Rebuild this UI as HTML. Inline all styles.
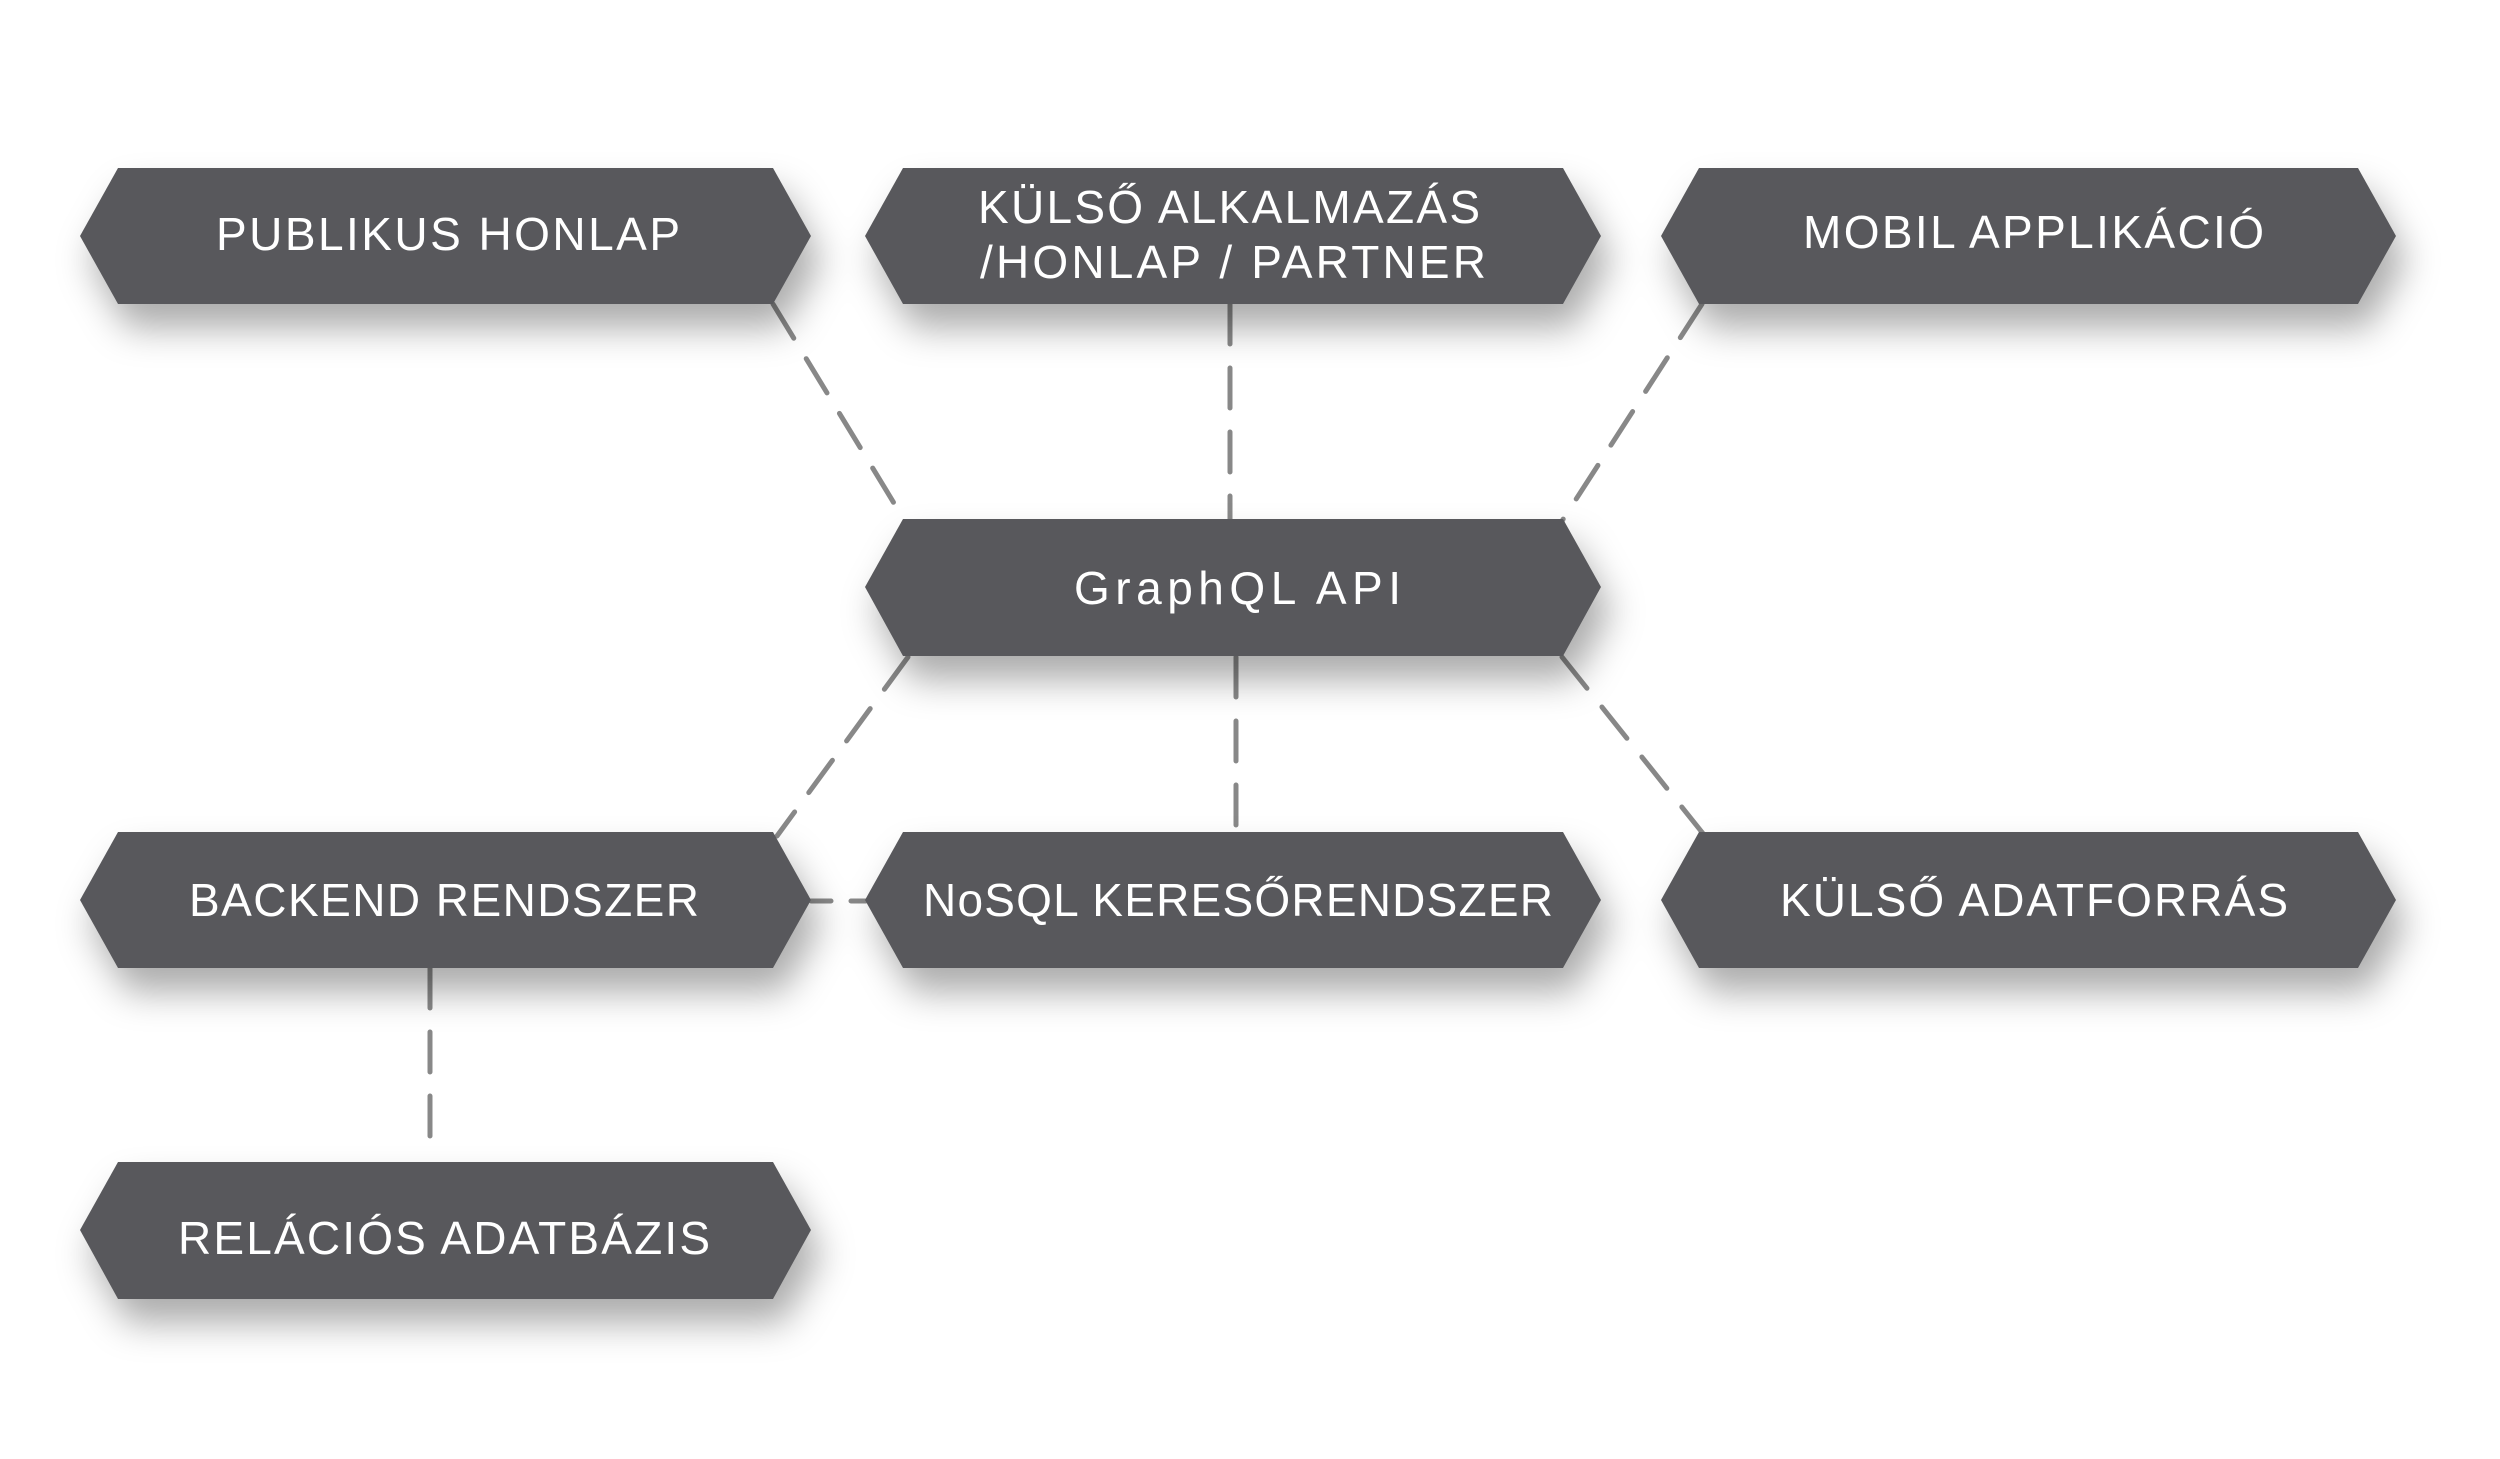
<!DOCTYPE html>
<html><head><meta charset="utf-8"><style>
html,body{margin:0;padding:0;background:#fff;}
svg{display:block;}
text{font-family:"Liberation Sans",sans-serif;font-size:46px;fill:#fff;}
</style></head><body>
<svg width="2500" height="1459" viewBox="0 0 2500 1459" xmlns="http://www.w3.org/2000/svg">
<defs>
<filter id="sh" x="-10%" y="-30%" width="130%" height="200%">
<feDropShadow dx="10" dy="24" stdDeviation="18" flood-color="#000" flood-opacity="0.33"/>
</filter>
</defs>
<g stroke="#888" stroke-width="5" stroke-dasharray="40 24" stroke-linecap="round" fill="none">
<line x1="773" y1="304" x2="903" y2="518"/>
<line x1="1230" y1="304" x2="1230" y2="520"/>
<line x1="1702" y1="304" x2="1562" y2="521"/>
<line x1="908" y1="657" x2="777" y2="836"/>
<line x1="1236" y1="657" x2="1236" y2="836"/>
<line x1="1562" y1="657" x2="1705" y2="836"/>
<line x1="811" y1="901" x2="866" y2="901" stroke-dasharray="20 20"/>
<line x1="430" y1="968" x2="430" y2="1160"/>
</g>
<g fill="#59595b" filter="url(#sh)">
<polygon points="118,168 773,168 811,236 773,304 118,304 80,236"/>
<polygon points="903,168 1563,168 1601,236 1563,304 903,304 865,236"/>
<polygon points="1699,168 2358,168 2396,236 2358,304 1699,304 1661,236"/>
<polygon points="903,519 1563,519 1601,587 1563,656 903,656 865,587"/>
<polygon points="118,832 773,832 811,900 773,968 118,968 80,900"/>
<polygon points="903,832 1563,832 1601,900 1563,968 903,968 865,900"/>
<polygon points="1699,832 2358,832 2396,900 2358,968 1699,968 1661,900"/>
<polygon points="118,1162 773,1162 811,1230 773,1299 118,1299 80,1230"/>
</g>
<text x="216" y="250" textLength="464" lengthAdjust="spacing">PUBLIKUS HONLAP</text>
<text x="978" y="223" textLength="502" lengthAdjust="spacing">KÜLSŐ ALKALMAZÁS</text>
<text x="980" y="278" textLength="506" lengthAdjust="spacing">/HONLAP / PARTNER</text>
<text x="1803" y="248" textLength="461" lengthAdjust="spacing">MOBIL APPLIKÁCIÓ</text>
<text x="1074" y="604" textLength="327" lengthAdjust="spacing">GraphQL API</text>
<text x="189" y="916" textLength="510" lengthAdjust="spacing">BACKEND RENDSZER</text>
<text x="923" y="916" textLength="630" lengthAdjust="spacing">NoSQL KERESŐRENDSZER</text>
<text x="1780" y="916" textLength="508" lengthAdjust="spacing">KÜLSŐ ADATFORRÁS</text>
<text x="178" y="1254" textLength="532" lengthAdjust="spacing">RELÁCIÓS ADATBÁZIS</text>
</svg>
</body></html>
